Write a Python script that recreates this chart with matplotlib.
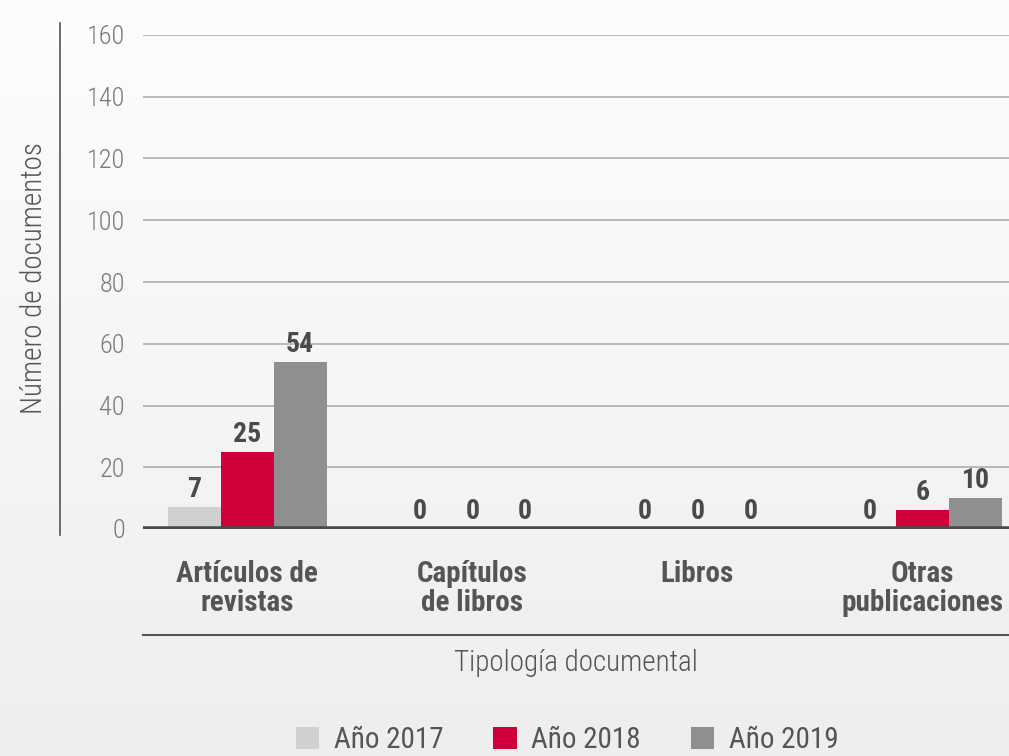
import numpy as np
import matplotlib
matplotlib.use("Agg")
import matplotlib.pyplot as plt
from matplotlib.patches import Patch
from matplotlib.lines import Line2D
from matplotlib.colors import LinearSegmentedColormap

categories = ["Artículos de\nrevistas", "Capítulos\nde libros", "Libros", "Otras\npublicaciones"]
series_names = ["Año 2017", "Año 2018", "Año 2019"]
values_2017 = [7, 0, 0, 0]
values_2018 = [25, 0, 0, 6]
values_2019 = [54, 0, 0, 10]
yticks = [0, 20, 40, 60, 80, 100, 120, 140, 160]

colors = ["#d0d0d0", "#cf0039", "#8f8f8f"]
FONT = ["Roboto Condensed", "Liberation Sans Narrow", "DejaVu Sans"]
plt.rcParams['font.family'] = FONT

W, H = 1009, 756
fig = plt.figure(figsize=(W / 100, H / 100), dpi=100)

# background gradient
bg = fig.add_axes([0, 0, 1, 1], zorder=-10)
grad = np.linspace(0, 1, 256).reshape(-1, 1)
cmap = LinearSegmentedColormap.from_list("bg", ["#fdfdfd", "#eeeeee"])
bg.imshow(grad, aspect="auto", cmap=cmap, extent=[0, 1, 0, 1], origin="upper")
bg.set_axis_off()

left, top = 143, 35
bottom = 529
ax = fig.add_axes([left / W, 1 - bottom / H, (W - left) / W, (bottom - top) / H])
ax.patch.set_alpha(0)
for s in ax.spines.values():
    s.set_visible(False)

x = np.arange(len(categories))
bw = 0.235
series = [values_2017, values_2018, values_2019]
for i, (vals, c) in enumerate(zip(series, colors)):
    pos = x + (i - 1) * bw
    ax.bar(pos, vals, width=bw, color=c, zorder=3)
    for xp, v in zip(pos, vals):
        ax.annotate(str(v), (xp, v), xytext=(0, 3), textcoords="offset points",
                    ha="center", va="bottom", fontsize=20, fontweight="black",
                    color="#4a4a4a", zorder=4)

ax.set_xlim(-0.463, 3.384)
ax.set_ylim(0, 160)
ax.set_yticks(yticks)
ax.set_yticklabels([str(t) for t in yticks], fontsize=19, fontweight="light", color="#7a7a7a")
ax.yaxis.grid(True, color="#a8a8a8", linewidth=1.1, zorder=0)
ax.set_axisbelow(True)
ax.tick_params(axis="y", length=0, pad=13)
ax.set_xticks(x)
ax.set_xticklabels(categories, fontsize=21, fontweight="black", color="#555555",
                   linespacing=1.05)
ax.tick_params(axis="x", length=0, pad=22)

# thick baseline
ax.axhline(0, color="#4a4a4a", linewidth=4, zorder=5)

# y-axis line on far left
fig.add_artist(Line2D([60 / W, 60 / W], [1 - 23 / H, 1 - 535 / H], color="#555555", linewidth=1.2))
# line under categories
fig.add_artist(Line2D([143 / W, 1.0], [1 - 635 / H, 1 - 635 / H], color="#555555", linewidth=1.5))

fig.text(34 / W, 1 - 278 / H, "Número de documentos", rotation=90, ha="center", va="center",
         fontsize=21, fontweight="light", color="#555555")
fig.text(576 / W, 1 - 663 / H, "Tipología documental", ha="center", va="center",
         fontsize=21, fontweight="light", color="#555555")

handles = [Patch(facecolor=c, edgecolor="none") for c in colors]
leg = fig.legend(handles, series_names, loc="center", bbox_to_anchor=(567 / W, 1 - 740 / H),
                 ncol=3, frameon=False, prop={"size": 21}, labelcolor="#555555",
                 handlelength=0.8, handleheight=0.8, handletextpad=0.5, columnspacing=1.72)

fig.savefig("out.png", dpi=100)
